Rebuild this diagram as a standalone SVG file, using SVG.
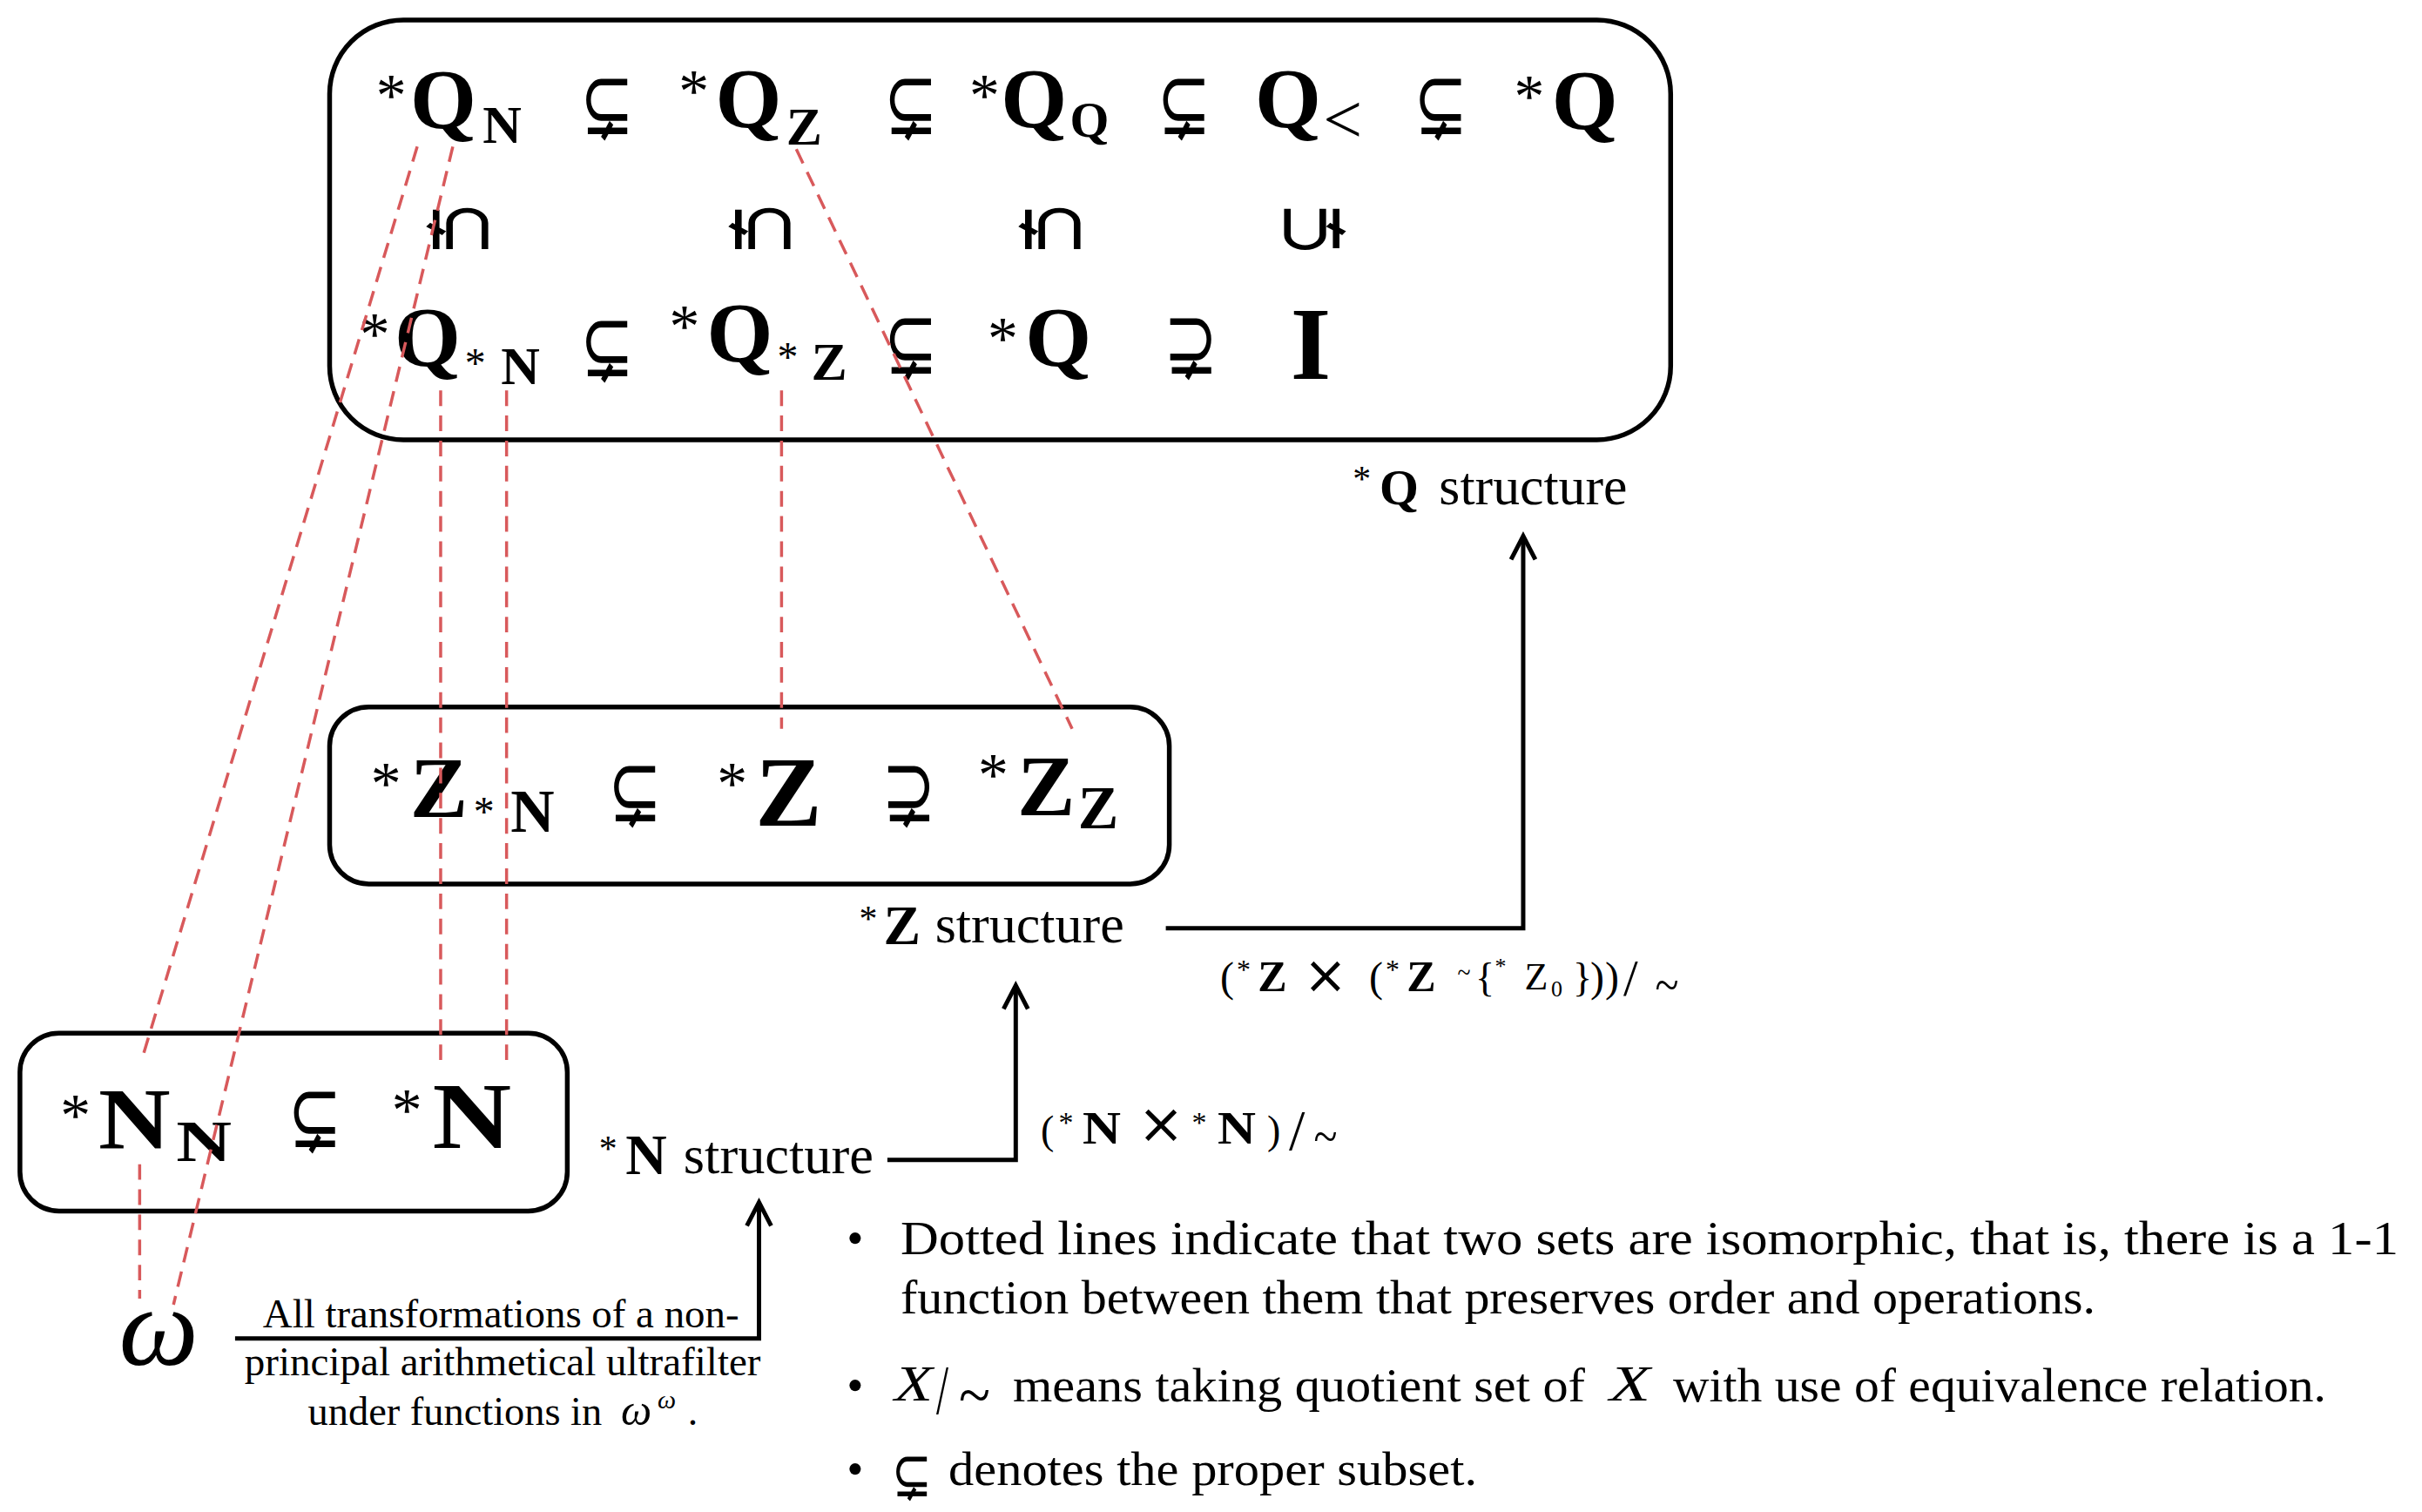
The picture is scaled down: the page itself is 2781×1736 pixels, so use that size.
<svg xmlns="http://www.w3.org/2000/svg" width="2781" height="1736" viewBox="0 0 2781 1736">
<style>
.box{fill:none;stroke:#000;stroke-width:5.5}
.dash{fill:none;stroke:#d8595b;stroke-width:3.5;stroke-dasharray:18 11}
.arr{fill:none;stroke:#000;stroke-width:5;stroke-linejoin:miter}
.b{font-family:"Liberation Serif","DejaVu Serif",serif;font-weight:bold;text-anchor:middle}
.r{font-family:"Liberation Serif","DejaVu Serif",serif}
.ast{font-family:"Liberation Serif","DejaVu Serif",serif;text-anchor:middle}
.sym{font-family:"DejaVu Sans",sans-serif;text-anchor:middle}
.til{font-family:"Liberation Serif","DejaVu Serif",serif;text-anchor:middle}
.rel{font-family:"DejaVu Sans",sans-serif;text-anchor:middle;font-size:104px}
.it{font-family:"Liberation Serif","DejaVu Serif",serif;font-style:italic}
</style>
<rect width="2781" height="1736" fill="#fff"/>

<g transform="scale(0.996)">
<g id="node-Q">
<rect class="box" x="380" y="23" width="1546" height="484" rx="85"/>
<g id="row1">
<text class="ast" x="451" y="134" font-size="70">*</text>
<text class="b" x="511" y="148" font-size="98">Q</text>
<text class="b" x="579" y="165" font-size="62">N</text>
<text class="rel" transform="translate(700,124)" y="31" textLength="62" lengthAdjust="spacingAndGlyphs">⊊</text>
<text class="ast" x="800" y="129" font-size="70">*</text>
<text class="b" x="863" y="147" font-size="98">Q</text>
<text class="b" x="927" y="167" font-size="62">Z</text>
<text class="rel" transform="translate(1050,124)" y="31" textLength="62" lengthAdjust="spacingAndGlyphs">⊊</text>
<text class="ast" x="1135" y="134" font-size="70">*</text>
<text class="b" x="1192" y="147" font-size="98">Q</text>
<text class="b" x="1256" y="158" font-size="58">Q</text>
<text class="rel" transform="translate(1365,124)" y="31" textLength="62" lengthAdjust="spacingAndGlyphs">⊊</text>
<text class="b" x="1485" y="147" font-size="98">Q</text>
<text class="r" x="1548" y="165" font-size="80" text-anchor="middle">&lt;</text>
<text class="rel" transform="translate(1661,124)" y="31" textLength="62" lengthAdjust="spacingAndGlyphs">⊊</text>
<text class="ast" x="1763" y="135" font-size="70">*</text>
<text class="b" x="1827" y="149" font-size="98">Q</text>
</g>
<g id="row2">
<text class="rel" transform="translate(530,264) rotate(90)" y="31" textLength="62" lengthAdjust="spacingAndGlyphs">⊊</text>
<text class="rel" transform="translate(878,264) rotate(90)" y="31" textLength="62" lengthAdjust="spacingAndGlyphs">⊊</text>
<text class="rel" transform="translate(1213,264) rotate(90)" y="31" textLength="62" lengthAdjust="spacingAndGlyphs">⊊</text>
<text class="rel" transform="translate(1513,264) rotate(-90)" y="31" textLength="62" lengthAdjust="spacingAndGlyphs">⊊</text>
</g>
<g id="row3">
<text class="ast" x="432" y="409" font-size="70">*</text>
<text class="b" x="493" y="422" font-size="98">Q</text>
<text class="ast" x="548" y="435" font-size="48">*</text>
<text class="b" x="600" y="443" font-size="62">N</text>
<text class="rel" transform="translate(700,403)" y="31" textLength="62" lengthAdjust="spacingAndGlyphs">⊊</text>
<text class="ast" x="789" y="400" font-size="70">*</text>
<text class="b" x="853" y="417" font-size="98">Q</text>
<text class="ast" x="908" y="428" font-size="48">*</text>
<text class="b" x="956" y="438" font-size="62">Z</text>
<text class="rel" transform="translate(1050,400)" y="31" textLength="62" lengthAdjust="spacingAndGlyphs">⊊</text>
<text class="ast" x="1156" y="414" font-size="70">*</text>
<text class="b" x="1220" y="422" font-size="98">Q</text>
<text class="rel" transform="translate(1373,400)" y="31" textLength="62" lengthAdjust="spacingAndGlyphs">⊋</text>
<text class="b" x="1511" y="437" font-size="120">I</text>
</g>
</g>

<g id="label-Q">
<text class="ast" x="1570" y="566" font-size="42">*</text>
<text class="b" x="1613" y="581" font-size="58">Q</text>
<text class="r" x="1659" y="581" font-size="62" textLength="217" lengthAdjust="spacingAndGlyphs">structure</text>
</g>

<g id="node-Z">
<rect class="box" x="380" y="815" width="968" height="204" rx="45"/>
<text class="ast" x="445" y="927" font-size="70">*</text>
<text class="b" x="506" y="942" font-size="100">Z</text>
<text class="ast" x="558" y="952" font-size="48">*</text>
<text class="b" x="614" y="959" font-size="70">N</text>
<text class="rel" transform="translate(732,916)" y="31" textLength="62" lengthAdjust="spacingAndGlyphs">⊊</text>
<text class="ast" x="844" y="927" font-size="70">*</text>
<text class="b" x="909" y="952" font-size="115">Z</text>
<text class="rel" transform="translate(1048,916)" y="31" textLength="62" lengthAdjust="spacingAndGlyphs">⊋</text>
<text class="ast" x="1145" y="917" font-size="70">*</text>
<text class="b" x="1206" y="940" font-size="100">Z</text>
<text class="b" x="1266" y="955" font-size="70">Z</text>
</g>

<g id="label-Z">
<text class="ast" x="1001" y="1073" font-size="42">*</text>
<text class="b" x="1040" y="1088" font-size="64">Z</text>
<text class="r" x="1078" y="1086" font-size="62" textLength="218" lengthAdjust="spacingAndGlyphs">structure</text>
</g>

<g id="node-N">
<rect class="box" x="23" y="1191" width="631" height="205" rx="45"/>
<text class="ast" x="87" y="1309" font-size="70">*</text>
<text class="b" x="155" y="1323" font-size="100" textLength="83" lengthAdjust="spacingAndGlyphs">N</text>
<text class="b" x="235" y="1338" font-size="68" textLength="64" lengthAdjust="spacingAndGlyphs">N</text>
<text class="rel" transform="translate(363,1291)" y="31" textLength="62" lengthAdjust="spacingAndGlyphs">⊊</text>
<text class="ast" x="469" y="1303" font-size="70">*</text>
<text class="b" x="544" y="1323" font-size="108" textLength="91" lengthAdjust="spacingAndGlyphs">N</text>
</g>

<g id="label-N">
<text class="ast" x="701" y="1338" font-size="42">*</text>
<text class="b" x="745" y="1353" font-size="66">N</text>
<text class="r" x="788" y="1352" font-size="62" textLength="219" lengthAdjust="spacingAndGlyphs">structure</text>
</g>

<g id="node-omega">
<text class="it" x="183" y="1573" font-size="130" text-anchor="middle">ω</text>
</g>

<g id="label-ultrafilter">
<text class="r" x="303" y="1530" font-size="46" textLength="549" lengthAdjust="spacingAndGlyphs">All transformations of a non-</text>
<text class="r" x="282" y="1585" font-size="46" textLength="595" lengthAdjust="spacingAndGlyphs">principal arithmetical ultrafilter</text>
<text class="r" x="355" y="1643" font-size="46" textLength="339" lengthAdjust="spacingAndGlyphs">under functions in</text>
<text class="it" x="716" y="1643" font-size="50">ω</text>
<text class="it" x="758" y="1624" font-size="30">ω</text>
<text class="r" x="793" y="1643" font-size="46">.</text>
</g>

<g id="connectors">
<line class="dash" x1="481" y1="169" x2="163" y2="1223"/>
<line class="dash" x1="161" y1="1342" x2="161" y2="1497"/>
<line class="dash" x1="522" y1="169" x2="200" y2="1504"/>
<line class="dash" x1="508" y1="450" x2="508" y2="1232"/>
<line class="dash" x1="584" y1="450" x2="584" y2="1230"/>
<line class="dash" x1="901" y1="450" x2="901" y2="840"/>
<line class="dash" x1="918" y1="172" x2="1236" y2="840"/>
<path class="arr" d="M1344,1070 H1756 V620"/>
<path class="arr" d="M1742,645 L1756,618 L1770,645"/>
<path class="arr" d="M1023,1337 H1171 V1140"/>
<path class="arr" d="M1157,1163 L1171,1136 L1185,1163"/>
<path class="arr" d="M271,1543 H875 V1390"/>
<path class="arr" d="M861,1413 L875,1386 L889,1413"/>
</g>
</g>

<g id="label-NxN">
<text class="r" x="1195" y="1313" font-size="46">(</text>
<text class="ast" x="1224" y="1300" font-size="34">*</text>
<text class="b" x="1265" y="1313" font-size="52" textLength="44" lengthAdjust="spacingAndGlyphs">N</text>
<text class="sym" x="1333" y="1312" font-size="64">×</text>
<text class="ast" x="1377" y="1300" font-size="34">*</text>
<text class="b" x="1420" y="1313" font-size="52" textLength="44" lengthAdjust="spacingAndGlyphs">N</text>
<text class="r" x="1455" y="1313" font-size="46">)</text>
<text class="r" x="1480" y="1320" font-size="66">/</text>
<text class="til" x="1522" y="1324" font-size="56" textLength="27" lengthAdjust="spacingAndGlyphs">~</text>
</g>

<g id="label-ZxZ">
<text class="r" x="1401" y="1138" font-size="48">(</text>
<text class="ast" x="1428" y="1124" font-size="32">*</text>
<text class="b" x="1461" y="1138" font-size="50">Z</text>
<text class="sym" x="1522" y="1140" font-size="60">×</text>
<text class="r" x="1572" y="1138" font-size="48">(</text>
<text class="ast" x="1599" y="1124" font-size="32">*</text>
<text class="b" x="1632" y="1138" font-size="50">Z</text>
<text class="til" x="1681" y="1127" font-size="32" textLength="15" lengthAdjust="spacingAndGlyphs">~</text>
<text class="r" x="1694" y="1138" font-size="46">{</text>
<text class="ast" x="1723" y="1118" font-size="26">*</text>
<text class="r" x="1764" y="1136" font-size="44" text-anchor="middle">Z</text>
<text class="r" x="1781" y="1144" font-size="26">0</text>
<text class="r" x="1806" y="1138" font-size="46">}</text>
<text class="r" x="1826" y="1138" font-size="48">)</text>
<text class="r" x="1843" y="1138" font-size="48">)</text>
<text class="r" x="1864" y="1143" font-size="60">/</text>
<text class="til" x="1914" y="1150" font-size="56" textLength="27" lengthAdjust="spacingAndGlyphs">~</text>
</g>

<g id="notes">
<text class="r" x="982" y="1440" font-size="55" text-anchor="middle">•</text>
<text class="r" x="1034" y="1440" font-size="55" textLength="1720" lengthAdjust="spacingAndGlyphs">Dotted lines indicate that two sets are isomorphic, that is, there is a 1-1</text>
<text class="r" x="1034" y="1508" font-size="55" textLength="1372" lengthAdjust="spacingAndGlyphs">function between them that preserves order and operations.</text>
<text class="r" x="982" y="1609" font-size="55" text-anchor="middle">•</text>
<text class="it" x="1027" y="1608" font-size="56" textLength="44" lengthAdjust="spacingAndGlyphs">X</text>
<text class="r" x="1075" y="1623" font-size="80" textLength="14" lengthAdjust="spacingAndGlyphs">/</text>
<text class="til" x="1119" y="1626" font-size="72" textLength="36" lengthAdjust="spacingAndGlyphs">~</text>
<text class="r" x="1163" y="1609" font-size="55" textLength="657" lengthAdjust="spacingAndGlyphs">means taking quotient set of</text>
<text class="it" x="1848" y="1608" font-size="58" textLength="47" lengthAdjust="spacingAndGlyphs">X</text>
<text class="r" x="1921" y="1609" font-size="55" textLength="750" lengthAdjust="spacingAndGlyphs">with use of equivalence relation.</text>
<text class="r" x="982" y="1705" font-size="55" text-anchor="middle">•</text>
<text class="sym" x="1047" y="1718" font-size="74" textLength="46" lengthAdjust="spacingAndGlyphs">⊊</text>
<text class="r" x="1089" y="1705" font-size="55" textLength="607" lengthAdjust="spacingAndGlyphs">denotes the proper subset.</text>
</g>
</svg>
